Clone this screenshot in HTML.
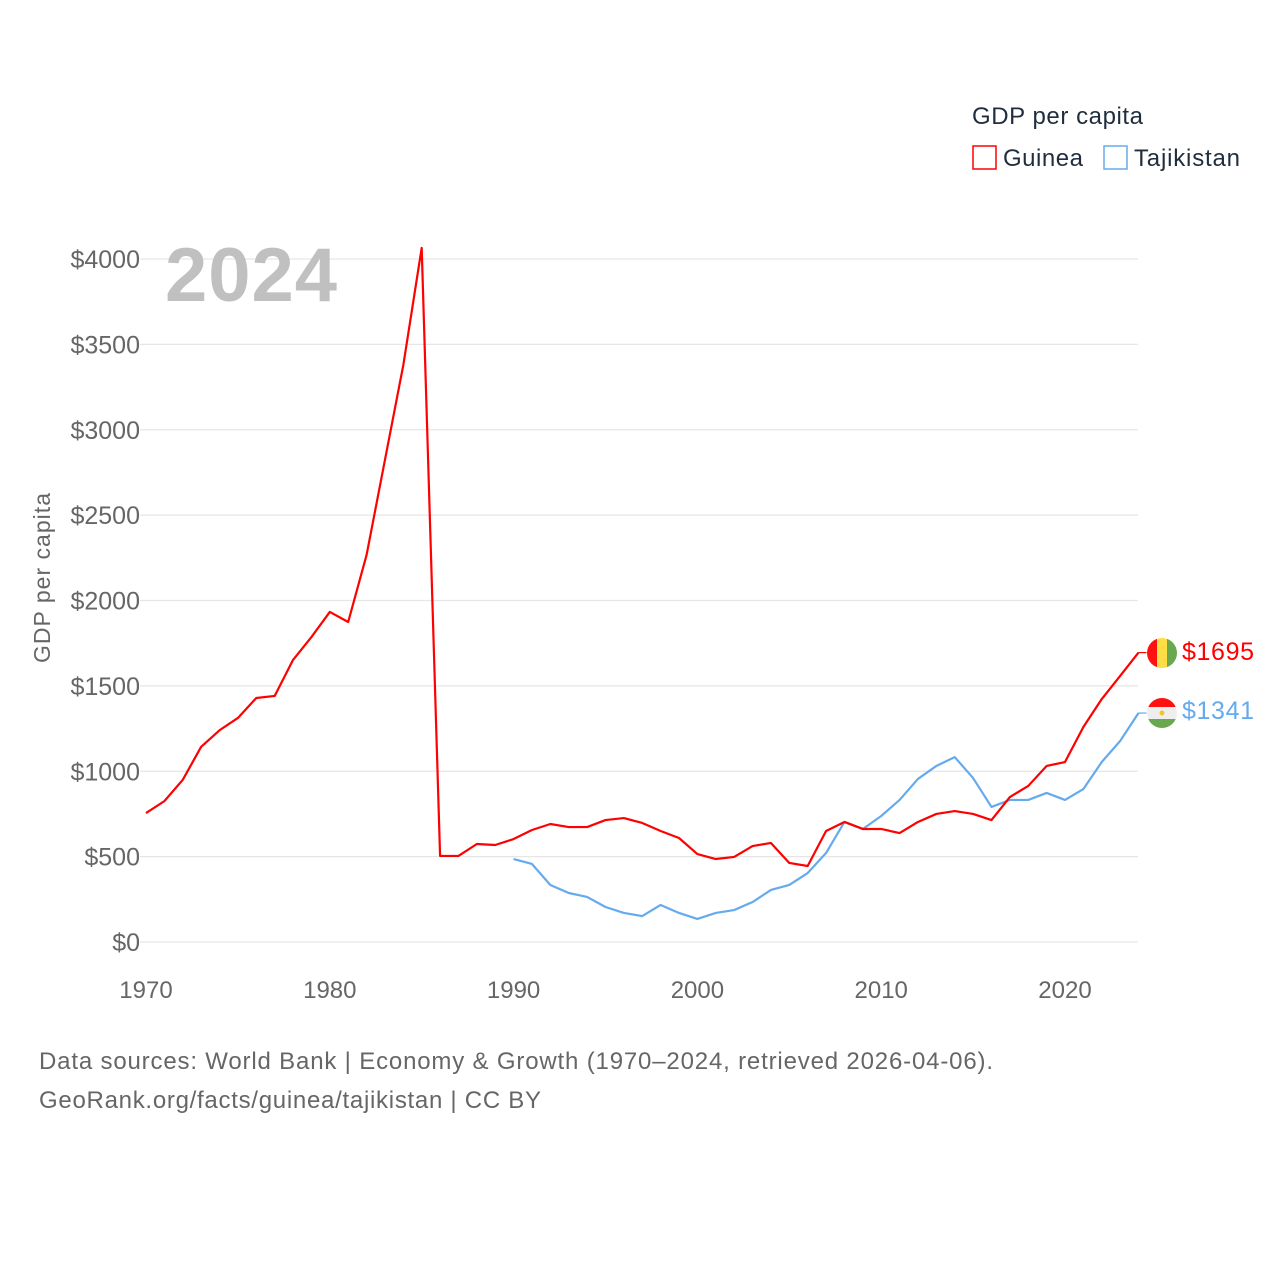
<!DOCTYPE html>
<html><head><meta charset="utf-8"><style>
body{margin:0;background:#fff;}
svg{display:block;font-family:"Liberation Sans",sans-serif;}
</style></head><body>
<svg id="chart" width="1280" height="1280" viewBox="0 0 1280 1280">
<rect width="1280" height="1280" fill="#fff"/>
<g id="grid"></g>
<g id="yticks"></g>
<g id="xticks"></g>
<text x="165" y="301" font-size="76" font-weight="bold" fill="#c0c0c0" textLength="172">2024</text>
<text transform="translate(50,578) rotate(-90)" text-anchor="middle" font-size="23" fill="#666" textLength="170">GDP per capita</text>
<g id="lines"></g>
<g>
<text x="972" y="124" font-size="24" fill="#1f2d3d" textLength="171">GDP per capita</text>
<g><rect x="973" y="146" width="23" height="23" fill="none" stroke="#ff0000" stroke-width="1.5"/><text x="1003" y="166" font-size="24" fill="#1f2d3d" textLength="80">Guinea</text></g>
<g><rect x="1104" y="146" width="23" height="23" fill="none" stroke="#66aaee" stroke-width="1.5"/><text x="1134" y="166" font-size="24" fill="#1f2d3d" textLength="106">Tajikistan</text></g>
</g>
<g>
<clipPath id="cg"><circle cx="1162" cy="653" r="15"/></clipPath>
<g clip-path="url(#cg)"><rect x="1147" y="638" width="10" height="30" fill="#ff1111"/><rect x="1157" y="638" width="10" height="30" fill="#ffdd44"/><rect x="1167" y="638" width="10" height="30" fill="#6aa84f"/></g>
</g>
<g>
<clipPath id="ct"><circle cx="1162" cy="713" r="15"/></clipPath>
<g clip-path="url(#ct)"><rect x="1147" y="698" width="30" height="9" fill="#ff1111"/><rect x="1147" y="707" width="30" height="12" fill="#eeeeee"/><rect x="1147" y="719" width="30" height="9" fill="#6aa84f"/><circle cx="1162" cy="713" r="2.5" fill="#f4c430"/></g>
</g>
<text x="1182" y="660" font-size="25" fill="#ff0000" textLength="72">$1695</text>
<text x="1182" y="719" font-size="25" fill="#66aaee" textLength="72">$1341</text>
<text x="39" y="1069" font-size="24" fill="#666" textLength="954">Data sources: World Bank | Economy &amp; Growth (1970–2024, retrieved 2026-04-06).</text>
<text x="39" y="1108" font-size="24" fill="#666" textLength="502">GeoRank.org/facts/guinea/tajikistan | CC BY</text>
</svg>
<script>
const guineaYears=[1970,1971,1972,1973,1974,1975,1976,1977,1978,1979,1980,1981,1982,1983,1984,1985,1986,1987,1988,1989,1990,1991,1992,1993,1994,1995,1996,1997,1998,1999,2000,2001,2002,2003,2004,2005,2006,2007,2008,2009,2010,2011,2012,2013,2014,2015,2016,2017,2018,2019,2020,2021,2022,2023,2024];
const guineaValues=[755,825,950,1143,1240,1312,1429,1441,1652,1786,1933,1874,2266,2823,3379,4065,504,504,574,568,603,656,691,673,673,714,726,697,650,609,515,486,498,562,580,463,445,650,703,662,662,638,703,750,767,750,714,849,914,1031,1054,1259,1423,1558,1695];
const tajYears=[1990,1991,1992,1993,1994,1995,1996,1997,1998,1999,2000,2001,2002,2003,2004,2005,2006,2007,2008,2009,2010,2011,2012,2013,2014,2015,2016,2017,2018,2019,2020,2021,2022,2023,2024];
const tajValues=[486,457,334,287,264,205,170,152,217,170,135,170,187,234,305,334,404,521,703,662,738,832,955,1031,1083,960,791,832,832,873,832,896,1054,1177,1341];
const yTicks=[0,500,1000,1500,2000,2500,3000,3500,4000];
const xTicks=[1970,1980,1990,2000,2010,2020];
const NS='http://www.w3.org/2000/svg';
const xs=y=>146+(y-1970)*(1065-146)/50;
const ys=v=>942-v*(942-259)/4000;
const grid=document.getElementById('grid'),yt=document.getElementById('yticks'),xt=document.getElementById('xticks'),lines=document.getElementById('lines');
yTicks.forEach(t=>{
 const l=document.createElementNS(NS,'line');
 l.setAttribute('x1',140);l.setAttribute('x2',1138);l.setAttribute('y1',ys(t));l.setAttribute('y2',ys(t));
 l.setAttribute('stroke','#e6e6e6');l.setAttribute('stroke-width',1.3);
 
 
 grid.appendChild(l);
 const tx=document.createElementNS(NS,'text');
 tx.setAttribute('x',140);tx.setAttribute('y',ys(t)+9);tx.setAttribute('text-anchor','end');
 tx.setAttribute('font-size',25);tx.setAttribute('fill','#666');tx.textContent='$'+t;
 
 
 yt.appendChild(tx);
});
xTicks.forEach(t=>{
 const tx=document.createElementNS(NS,'text');
 tx.setAttribute('x',xs(t));tx.setAttribute('y',998);tx.setAttribute('text-anchor','middle');
 tx.setAttribute('font-size',24);tx.setAttribute('fill','#666');tx.textContent=t;
 
 
 xt.appendChild(tx);
});
function drawLine(yrs,vals,color,name){
 const p=document.createElementNS(NS,'polyline');
 p.setAttribute('points',yrs.map((y,i)=>xs(y)+','+ys(vals[i])).join(' '));
 p.setAttribute('fill','none');p.setAttribute('stroke',color);p.setAttribute('stroke-width',2.2);
 p.setAttribute('stroke-linejoin','round');
 
 
 lines.appendChild(p);
 const last=vals[vals.length-1],lx=xs(yrs[yrs.length-1]);
 const c=document.createElementNS(NS,'line');
 c.setAttribute('x1',lx);c.setAttribute('x2',lx+8);c.setAttribute('y1',ys(last));c.setAttribute('y2',ys(last));
 c.setAttribute('stroke',color);c.setAttribute('stroke-width',1.2);
 
 
 lines.appendChild(c);
}
drawLine(tajYears,tajValues,'#66aaee','tajikistan-line');
drawLine(guineaYears,guineaValues,'#ff0000','guinea-line');
</script>
</body></html>
